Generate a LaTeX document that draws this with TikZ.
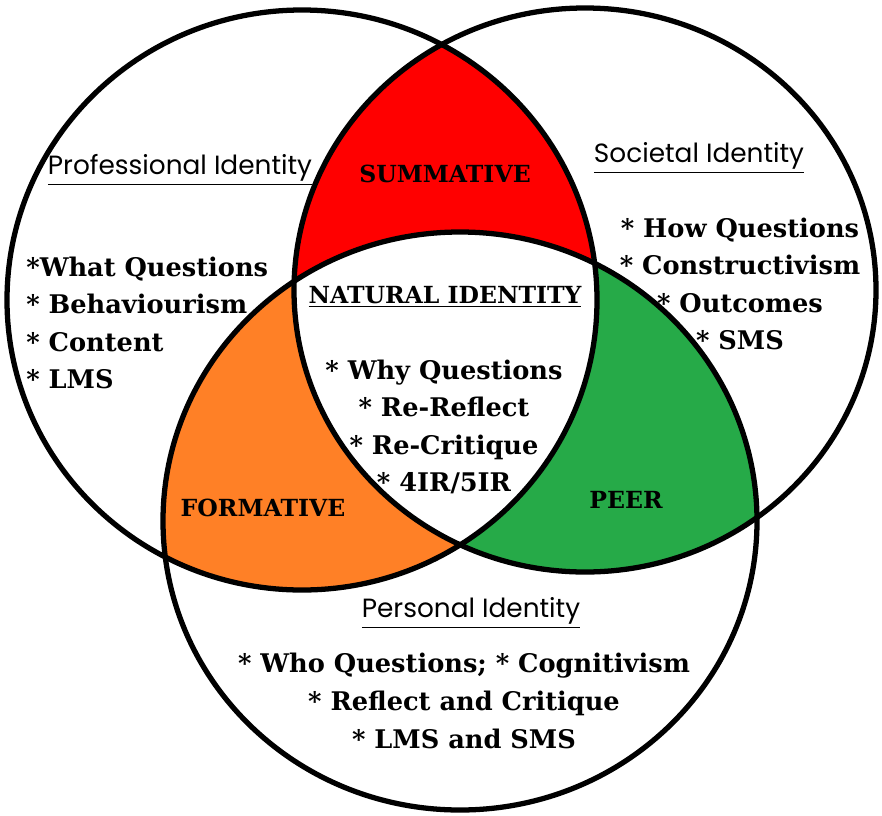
\documentclass[tikz,border=0pt]{standalone}
\usepackage{fontspec}
\setmainfont{DejaVu Serif}
\newfontfamily\idfont{Poppins}

\definecolor{summred}{RGB}{255,0,0}
\definecolor{formorange}{RGB}{255,128,38}
\definecolor{peergreen}{RGB}{38,170,72}

\def\profcircle{(302,300) ellipse (295 and 290)}
\def\soccircle{(585,290) ellipse (291 and 282)}
\def\perscircle{(460,521) ellipse (297 and 289)}

\begin{document}
\begin{tikzpicture}[x=0.02cm,y=-0.02cm,
  ring/.style={line width=3pt},
  idtitle/.style={font=\idfont\fontsize{15}{17}\selectfont},
  zonetitle/.style={font=\bfseries\fontsize{13.4}{15}\selectfont},
  itemlist/.style={font=\bfseries\fontsize{14.6}{21.4}\selectfont}]
\useasboundingbox (0,0) rectangle (882,815);

% overlaps
\begin{scope}
\clip \profcircle;
\fill [summred] \soccircle;
\fill [formorange] \perscircle;
\end{scope}
\begin{scope}
\clip \soccircle;
\fill [peergreen] \perscircle;
\end{scope}
\begin{scope}
\clip \profcircle;
\clip \soccircle;
\fill [white] \perscircle;
\end{scope}

\draw [ring] \profcircle;
\draw [ring] \soccircle;
\draw [ring] \perscircle;

\node [idtitle] (prof) at (180,170) {\underline{Professional Identity}};
\node [idtitle] (soc) at (699,158) {\underline{Societal Identity}};
\node [idtitle] (pers) at (471,613) {\underline{Personal Identity}};

\node [zonetitle] (summ) at (445,174) {SUMMATIVE};
\node [zonetitle] (form) at (263,508) {FORMATIVE};
\node [zonetitle] (peer) at (626,500) {PEER};
\node [zonetitle] (nat) at (445,297) {\underline{NATURAL IDENTITY}};

\node [itemlist, align=left, anchor=west, inner sep=0pt] (proflist) at (26,323)
  {*What Questions\\* Behaviourism\\* Content\\* LMS};
\node [itemlist, align=center] (soclist) at (740,284)
  {* How Questions\\* Constructivism\\* Outcomes\\* SMS};
\node [itemlist, align=center] (natlist) at (444,427)
  {* Why Questions\\* Re-Reflect\\* Re-Critique\\* 4IR/5IR};
\node [itemlist, align=center] (perslist) at (464,701)
  {* Who Questions; * Cognitivism\\* Reflect and Critique\\* LMS and SMS};

\end{tikzpicture}
\end{document}
